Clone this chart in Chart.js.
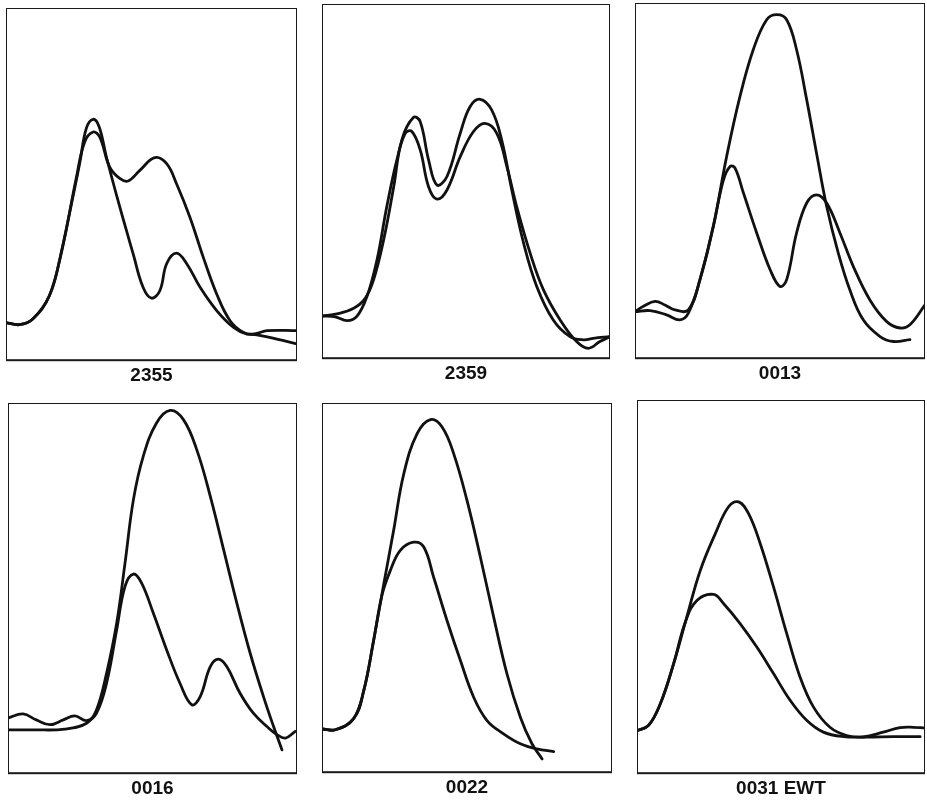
<!DOCTYPE html>
<html>
<head>
<meta charset="utf-8">
<script src="https://cdn.jsdelivr.net/npm/chart.js@4.4.1/dist/chart.umd.min.js"></script>
<style>
  html, body { margin: 0; padding: 0; background: #fff; }
  body { width: 927px; height: 801px; position: relative; overflow: hidden; }
  .panel { position: absolute; }
</style>
</head>
<body>
<script>
// sample labels, one per panel
const sampleLabels = ['2355', '2359', '0013', '0016', '0022', '0031 EWT'];

// traces: [x, y], x = 0..100 across the frame, y = 0..100 up the frame
const trace2355a = [[0,10.7],[4.6,10.1],[9.2,11.7],[14.9,18.3],[18.4,28.3],[21.8,41.6],[25.3,55.8],[27.6,65.8],[29.9,68.4],[32,66.3],[34.5,57.7],[39.1,43.5],[43.7,30.2],[47.1,20.7],[50,17.6],[52.9,19.8],[55.2,27.4],[58.6,30.4],[62.1,27.4],[66.7,20.7],[72.4,14.1],[78.2,9.3],[82.8,7.4],[86.2,7.6],[89.7,8.4],[100,8.4]];
const trace2355b = [[0,10.7],[4.6,10.1],[9.2,11.7],[14.9,18.3],[19.5,32.5],[24.1,51.5],[27,61.9],[29.9,64.8],[32.2,63.4],[35.6,54.9],[39.1,51.6],[42,50.9],[46,53.9],[51.1,57.5],[55.2,55.8],[58.6,50.1],[63.2,40.6],[67.8,29.2],[72.4,18.8],[77,11.2],[81.6,7.9],[86.2,7.2],[93.1,6],[100,4.6]];

const trace2359a = [[0,11.9],[5.2,12.5],[11,14.1],[15,16.9],[17.9,22.1],[21.4,33.4],[24.9,48.4],[27.7,61.6],[31.8,68],[34.1,66.8],[37,56],[39.9,48.9],[43.4,51.3],[48,63.5],[51.4,71],[54.9,73.1],[58.9,70.1],[62.4,61.6],[65.9,47.5],[70,32.5],[74.6,20.2],[80.3,10.8],[86.1,6.1],[90.8,5.2],[94.2,5.6],[100,6.1]];
const trace2359b = [[0,11.9],[4.6,11.7],[8.7,10.6],[12.1,11.8],[15.6,17.4],[19.1,27.8],[22.5,42.8],[26,56],[28.9,63.5],[31.2,64],[34.1,58.8],[37,48.4],[39.9,44.9],[43.4,47.5],[48,56.9],[52.6,64],[56.6,66.3],[60.7,63.5],[64.2,54.1],[67.6,42.8],[72.3,29.6],[76.9,19.3],[82.7,10.8],[88.4,4.7],[92.5,2.8],[96.5,4.7],[100,6.1]];

const trace0013a = [[0,13.1],[5.2,13.4],[10.9,12.2],[15.5,10.8],[18.4,12.7],[22.4,22.1],[27,37.1],[31.6,56.8],[36.2,73.7],[40.8,86.9],[45.4,95.3],[48.9,96.7],[52.3,95.3],[55.7,86.9],[59.2,72.8],[62.6,57.7],[66.1,42.7],[70.1,29.6],[74.1,19.2],[78.7,10.8],[84.5,6.1],[89.1,4.7],[94.8,5.2]];
const trace0013b = [[0,13.1],[2.9,14.6],[6.9,16],[10.3,15],[13.8,13.6],[18.4,13.6],[22.4,22.1],[27,37.1],[30.5,50.2],[32.8,54],[34.5,53.5],[37.4,46.5],[42,35.2],[46.6,24.9],[50,20.2],[52.3,22.1],[55.7,35.2],[59.2,43.7],[62.6,46],[66.1,43.7],[70.7,35.2],[75.3,25.8],[81,16.4],[86.8,10.3],[91.4,8.5],[94.8,9.4],[100,15]];

const trace0016a = [[0,11.7],[8.7,11.7],[19.7,11.9],[27.2,13.5],[30.6,17.1],[34.1,27],[37.6,40.5],[40.5,56.8],[43.4,73.9],[46.8,85.6],[51.4,94.6],[56.1,98],[60.7,95.5],[65.3,87.4],[70,74.8],[74.6,60.4],[79.2,45.9],[83.8,32.4],[88.4,20.7],[91.9,12.6],[94.8,6.3]];
const trace0016b = [[0,14.9],[5.2,16],[9.8,14.4],[14.5,13.1],[19.1,14.4],[23.1,15.5],[27.2,14.2],[30.6,16.2],[34.1,24.3],[37.6,38.7],[40.5,50.5],[43.4,53.8],[46.2,51.4],[50.3,43.2],[54.9,33.3],[59.5,24.3],[63.6,18.5],[66.5,20.7],[70,28.8],[72.8,30.8],[75.7,28.8],[80.3,21.6],[84.9,16.2],[89.6,12.6],[93.1,10.4],[96,9.5],[99.4,11.3]];

const trace0022a = [[0,11.7],[4.6,11.5],[10.9,14.5],[14.4,22.1],[17.8,35.7],[21.3,51],[24.7,65.5],[28.2,80.8],[32.8,91.7],[37.4,95.5],[41.4,93.5],[45.4,86.3],[50,73.6],[54.6,58.3],[59.2,42],[63.8,26.6],[68.4,14.9],[72.4,7.7],[75.9,3.6]];
const trace0022b = [[0,11.7],[4.6,11.5],[10.9,14.5],[14.4,22.1],[17.8,35.7],[20.7,48],[23.6,54.7],[27,60.1],[31.6,62.3],[35.1,61],[38.5,52.8],[43.1,41.1],[47.7,30.3],[52.3,20.3],[56.9,14],[62.6,10.4],[68.4,7.7],[74.1,6.3],[79.9,5.6]];

const trace0031a = [[0,11.4],[4,12.8],[8.1,18.6],[12.7,29.3],[17.3,41.9],[22,54.4],[27.2,64.2],[31.8,71.4],[35.3,72.7],[38.7,69.6],[42.8,61.5],[47.4,49.9],[52,37.4],[56.6,25.8],[61.3,17.7],[67,12.3],[72.8,10.1],[78.6,9.7],[85.5,11],[91.3,12.2],[96,12.3],[100,12.1]];
const trace0031b = [[0,11.4],[4,12.8],[8.1,18.6],[12.7,29.3],[16.8,40.5],[20.8,46.3],[26.6,47.9],[30.1,45.4],[35.8,40.1],[41.6,33.8],[47.4,26.7],[53.2,19.5],[59,14.1],[64.7,11],[71.7,9.8],[79.8,9.7],[89,9.8],[98.3,9.8]];

const tracePairs = [
  [trace2355a, trace2355b],
  [trace2359a, trace2359b],
  [trace0013a, trace0013b],
  [trace0016a, trace0016b],
  [trace0022a, trace0022b],
  [trace0031a, trace0031b]
];

// frame of each panel on the page (px)
const frames = [
  { left: 6,   top: 8,   width: 291, height: 352 },
  { left: 322, top: 4,   width: 288, height: 354 },
  { left: 635, top: 3,   width: 290, height: 355 },
  { left: 8,   top: 403, width: 289, height: 370 },
  { left: 322, top: 403, width: 290, height: 369 },
  { left: 637, top: 400, width: 288, height: 373 }
];

const TITLE_SPACE = 29;

// box round the plot area
const framePlugin = {
  id: 'frameBox',
  afterDraw(chart) {
    const { ctx, chartArea: { left, top, width, height } } = chart;
    ctx.save();
    ctx.strokeStyle = '#1a1a1a';
    ctx.lineWidth = 2;
    ctx.strokeRect(left, top, width, height);
    ctx.restore();
  }
};

function toPoints(trace) {
  return trace.map(([x, y]) => ({ x, y }));
}

sampleLabels.forEach((label, i) => {
  const f = frames[i];
  const wrap = document.createElement('div');
  wrap.className = 'panel';
  wrap.style.left = f.left + 'px';
  wrap.style.top = f.top + 'px';
  wrap.style.width = f.width + 'px';
  wrap.style.height = (f.height + TITLE_SPACE) + 'px';
  const canvas = document.createElement('canvas');
  wrap.appendChild(canvas);
  document.body.appendChild(wrap);

  new Chart(canvas, {
    type: 'line',
    data: {
      datasets: tracePairs[i].map(trace => ({
        data: toPoints(trace),
        borderColor: '#111',
        borderWidth: 2.8,
        borderCapStyle: 'round',
        borderJoinStyle: 'round',
        pointRadius: 0,
        fill: false,
        tension: 0.4
      }))
    },
    options: {
      animation: false,
      responsive: true,
      maintainAspectRatio: false,
      layout: { padding: 0 },
      scales: {
        x: { type: 'linear', min: 0, max: 100, display: false },
        y: { type: 'linear', min: 0, max: 100, display: false }
      },
      plugins: {
        legend: { display: false },
        tooltip: { enabled: false },
        title: {
          display: true,
          text: label,
          position: 'bottom',
          color: '#111',
          font: { family: 'Liberation Sans, Arial, sans-serif', size: 19, weight: 'bold' },
          padding: { top: 4, bottom: 2 }
        }
      }
    },
    plugins: [framePlugin]
  });
});
</script>
</body>
</html>
